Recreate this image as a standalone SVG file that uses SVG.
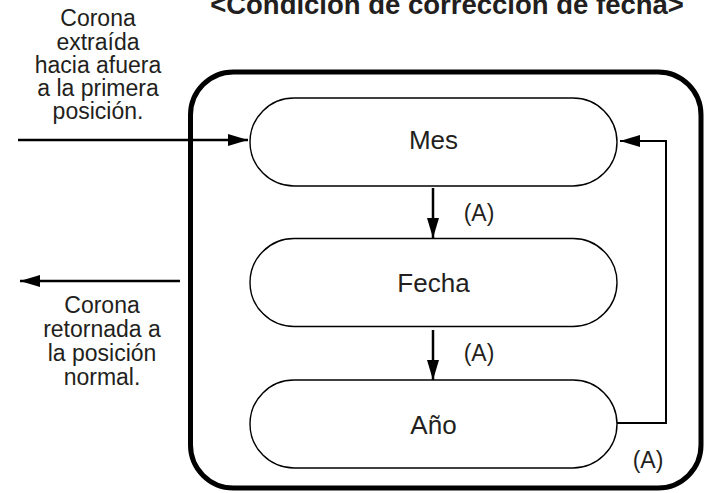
<svg xmlns="http://www.w3.org/2000/svg" width="712" height="493" viewBox="0 0 712 493">
<defs>
<marker id="ah" markerUnits="userSpaceOnUse" markerWidth="20" markerHeight="12" refX="20" refY="6" orient="auto">
<path d="M0,0 L20,6 L0,12 Z" fill="#000"/>
</marker>
<style>
.t{font-family:"Liberation Sans",Arial,sans-serif;fill:#231f20;text-anchor:middle}
.side{font-size:23px}
.node{font-size:26px}
.lbl{font-size:23px}
.pill{fill:#fff;stroke:#000;stroke-width:1.4}
.ln{fill:none;stroke:#000;stroke-width:2.5}
</style>
</defs>
<rect width="712" height="493" fill="#fff"/>
<text class="t" x="447" y="14" style="font-size:27.5px;font-weight:bold">&lt;Condición de corrección de fecha&gt;</text>
<rect x="190.5" y="72" width="510.5" height="416" rx="43" ry="43" fill="none" stroke="#000" stroke-width="5"/>
<g id="txt-in">
<text class="t side" x="98" y="26">Corona</text>
<text class="t side" x="98" y="49.5">extraída</text>
<text class="t side" x="98" y="73">hacia afuera</text>
<text class="t side" x="98" y="96">a la primera</text>
<text class="t side" x="98" y="119">posición.</text>
</g>
<g id="txt-out">
<text class="t side" x="102" y="313">Corona</text>
<text class="t side" x="102" y="337">retornada a</text>
<text class="t side" x="102" y="361">la posición</text>
<text class="t side" x="102" y="385">normal.</text>
</g>
<g id="mes">
<rect class="pill" x="250" y="98" width="367" height="88" rx="44" ry="44"/>
<text class="t node" x="433.5" y="149">Mes</text>
</g>
<g id="fecha">
<rect class="pill" x="250" y="238.5" width="367" height="88" rx="44" ry="44"/>
<text class="t node" x="433.5" y="292">Fecha</text>
</g>
<g id="anio">
<rect class="pill" x="250" y="380" width="367" height="88" rx="44" ry="44"/>
<text class="t node" x="433.5" y="433.5">Año</text>
</g>
<g id="connectors">
<line class="ln" x1="18" y1="140" x2="248" y2="140" marker-end="url(#ah)"/>
<line class="ln" x1="180" y1="281" x2="20" y2="281" marker-end="url(#ah)"/>
<line class="ln" x1="433" y1="188" x2="433" y2="238" marker-end="url(#ah)"/>
<line class="ln" x1="433" y1="330" x2="433" y2="380" marker-end="url(#ah)"/>
<polyline fill="none" stroke="#000" stroke-width="2" points="617,423 666,423 666,141 620,141" marker-end="url(#ah)"/>
<text class="t lbl" x="479" y="221">(A)</text>
<text class="t lbl" x="479" y="361">(A)</text>
<text class="t lbl" x="648" y="468">(A)</text>
</g>
</svg>
